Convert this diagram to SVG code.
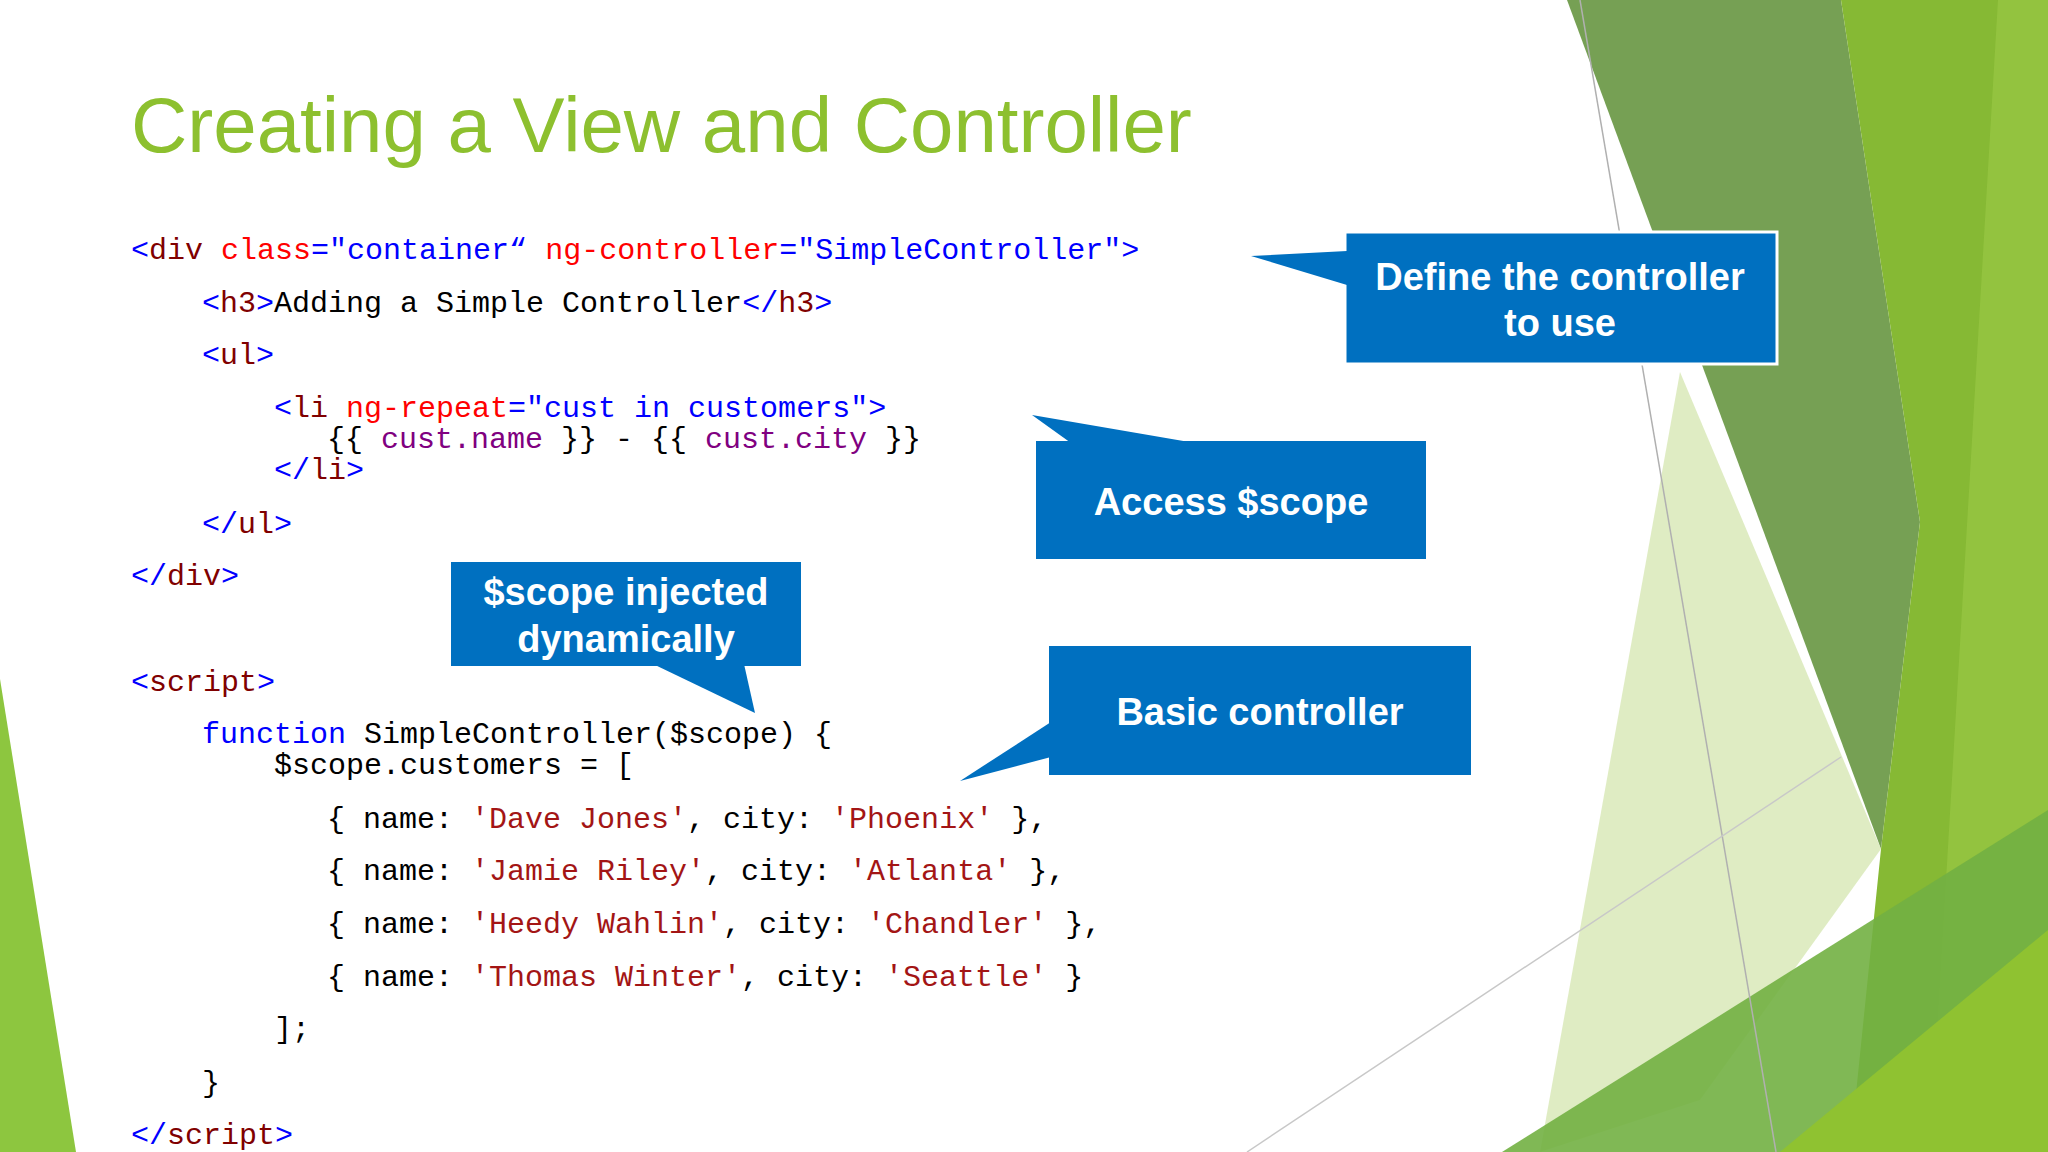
<svg xmlns="http://www.w3.org/2000/svg" width="2048" height="1152" viewBox="0 0 2048 1152">
<style>
.c{font-family:"Liberation Mono",monospace;font-size:30px;fill:#000;white-space:pre}
.t{fill:#800000}.b{fill:#0000ff}.a{fill:#ff0000}.p{fill:#800080}.s{fill:#a31515}
.box{fill:#0070c0}
.lbl{font-family:"Liberation Sans",Arial,sans-serif;font-weight:bold;font-size:38px;fill:#fff;text-anchor:middle}
</style>
<rect width="2048" height="1152" fill="#fff"/>
<g id="background">
<polygon points="1567,0 1841,0 1920,522 1881,849" fill="#5e8f36" opacity="0.85"/>
<polygon points="1841,0 2048,0 2048,1152 1850,1152 1881,849 1920,522" fill="#86b934"/>
<polygon points="1998,0 2048,0 2048,1152 1930,1152" fill="#99c744" opacity="0.7"/>
<polygon points="1680,372 1881,849 1700,1100 1540,1152" fill="#d2e4aa" opacity="0.7"/>
<polygon points="1502,1152 2048,810 2048,1152" fill="#72b043" opacity="0.9"/>
<polygon points="1780,1152 2048,930 2048,1152" fill="#8fc231"/>
<polygon points="0,679 76,1152 0,1152" fill="#8dc63f"/>
<line x1="1580" y1="0" x2="1776" y2="1152" stroke="#b0b0b0" stroke-width="1.5"/>
<line x1="1247" y1="1152" x2="1841" y2="757" stroke="#c8c8c8" stroke-width="1.5"/>
</g>
<text x="131" y="152" font-family="Liberation Sans,Arial,sans-serif" font-size="78" fill="#8dc02f">Creating a View and Controller</text>
<g id="code">
<text class="c" x="131" y="259"><tspan class="b">&lt;</tspan><tspan class="t">div</tspan> <tspan class="a">class</tspan><tspan class="b">="container“</tspan> <tspan class="a">ng-controller</tspan><tspan class="b">="SimpleController"&gt;</tspan></text>
<text class="c" x="202" y="312"><tspan class="b">&lt;</tspan><tspan class="t">h3</tspan><tspan class="b">&gt;</tspan>Adding a Simple Controller<tspan class="b">&lt;/</tspan><tspan class="t">h3</tspan><tspan class="b">&gt;</tspan></text>
<text class="c" x="202" y="364"><tspan class="b">&lt;</tspan><tspan class="t">ul</tspan><tspan class="b">&gt;</tspan></text>
<text class="c" x="274" y="417"><tspan class="b">&lt;</tspan><tspan class="t">li</tspan> <tspan class="a">ng-repeat</tspan><tspan class="b">="cust in customers"&gt;</tspan></text>
<text class="c" x="327" y="448">{{ <tspan class="p">cust.name</tspan> }} - {{ <tspan class="p">cust.city</tspan> }}</text>
<text class="c" x="274" y="479"><tspan class="b">&lt;/</tspan><tspan class="t">li</tspan><tspan class="b">&gt;</tspan></text>
<text class="c" x="202" y="533"><tspan class="b">&lt;/</tspan><tspan class="t">ul</tspan><tspan class="b">&gt;</tspan></text>
<text class="c" x="131" y="585"><tspan class="b">&lt;/</tspan><tspan class="t">div</tspan><tspan class="b">&gt;</tspan></text>
<text class="c" x="131" y="691"><tspan class="b">&lt;</tspan><tspan class="t">script</tspan><tspan class="b">&gt;</tspan></text>
<text class="c" x="202" y="743"><tspan class="b">function</tspan> SimpleController($scope) {</text>
<text class="c" x="274" y="774">$scope.customers = [</text>
<text class="c" x="327" y="828">{ name: <tspan class="s">'Dave Jones'</tspan>, city: <tspan class="s">'Phoenix'</tspan> },</text>
<text class="c" x="327" y="880">{ name: <tspan class="s">'Jamie Riley'</tspan>, city: <tspan class="s">'Atlanta'</tspan> },</text>
<text class="c" x="327" y="933">{ name: <tspan class="s">'Heedy Wahlin'</tspan>, city: <tspan class="s">'Chandler'</tspan> },</text>
<text class="c" x="327" y="986">{ name: <tspan class="s">'Thomas Winter'</tspan>, city: <tspan class="s">'Seattle'</tspan> }</text>
<text class="c" x="274" y="1038">];</text>
<text class="c" x="202" y="1092">}</text>
<text class="c" x="131" y="1144"><tspan class="b">&lt;/</tspan><tspan class="t">script</tspan><tspan class="b">&gt;</tspan></text>
</g>
<g id="callout-define">
<rect x="1345" y="232" width="432" height="132" class="box" stroke="#fff" stroke-width="3"/>
<polygon points="1251,256 1347,251 1347,285" class="box"/>
<text class="lbl" x="1560" y="290">Define the controller</text>
<text class="lbl" x="1560" y="336">to use</text>
</g>
<g id="callout-access">
<rect x="1036" y="441" width="390" height="118" class="box"/>
<polygon points="1032,415 1195,443 1071,443" class="box"/>
<text class="lbl" x="1231" y="515">Access $scope</text>
</g>
<g id="callout-injected">
<rect x="451" y="562" width="350" height="104" class="box"/>
<polygon points="653,664 744,664 755,713" class="box"/>
<text class="lbl" x="626" y="605">$scope injected</text>
<text class="lbl" x="626" y="652">dynamically</text>
</g>
<g id="callout-basic">
<rect x="1049" y="646" width="422" height="129" class="box"/>
<polygon points="1051,722 1051,757 960,781" class="box"/>
<text class="lbl" x="1260" y="725">Basic controller</text>
</g>
</svg>
